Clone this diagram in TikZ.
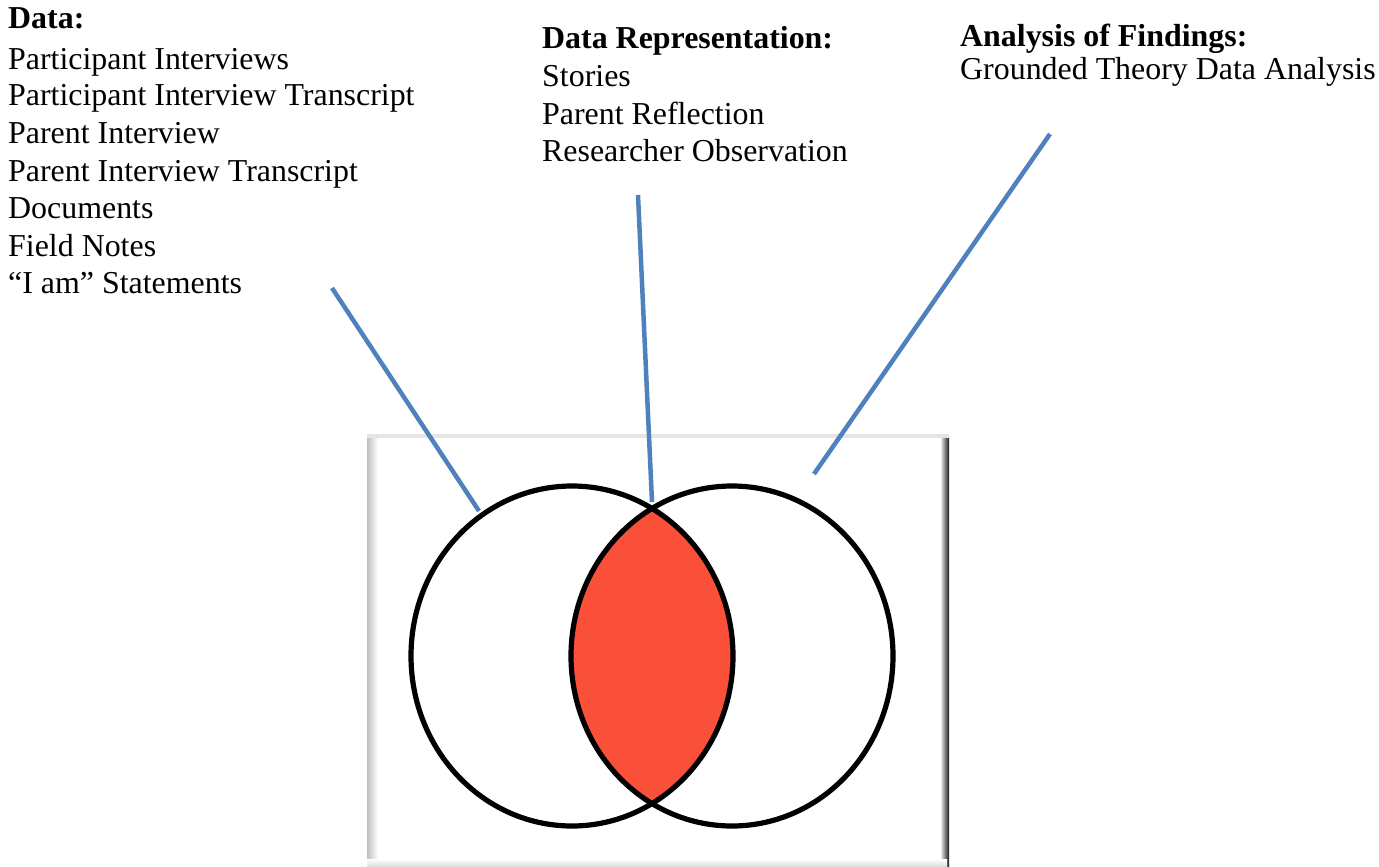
\documentclass[tikz,border=0pt]{standalone}
\usepackage{fontspec}
\setmainfont{Liberation Serif}
\definecolor{lineblue}{RGB}{79,129,189}
\definecolor{lensred}{RGB}{250,80,58}
\begin{document}
\begin{tikzpicture}[x=1pt,y=-1pt,
  lbl/.style={anchor=base west, inner sep=0pt, font=\fontsize{31.9}{37.8}\selectfont},
  head/.style={lbl, font=\fontsize{31.9}{37.8}\selectfont\bfseries},
  leader/.style={draw=lineblue, line width=4.5pt},
  ring/.style={draw=black, line width=5.2pt},
  rad/.style={x radius=161, y radius=170},
]
\useasboundingbox (0,0) rectangle (1379,867);
% frame
\node[anchor=north west, inner sep=0pt, minimum width=582pt, minimum height=432pt, fill=white] (frame) at (367,435) {};
\shade[left color=gray!50, right color=white] (367,437) rectangle (378,866);
\shade[left color=white, right color=black!90] (940,437) rectangle (949,866);
\fill[gray!20] (367,434) rectangle (949,437.5);
\shade[top color=white, bottom color=gray!25] (367,859) rectangle (947,866);

% texts
\node[head] (d0) at (8,29) {Data:};
\node[lbl] (d1) at (8,70) {Participant Interviews};
\node[lbl] (d2) at (8,106) {Participant Interview Transcript};
\node[lbl] (d3) at (8,143.5) {Parent Interview};
\node[lbl] (d4) at (8,181) {Parent Interview Transcript};
\node[lbl] (d5) at (8,218.5) {Documents};
\node[lbl] (d6) at (8,256) {Field Notes};
\node[lbl] (d7) at (8,293.6) {``I am'' Statements};

\node[head] (r0) at (542,49) {Data Representation:};
\node[lbl] (r1) at (542,87) {Stories};
\node[lbl] (r2) at (542,124) {Parent Reflection};
\node[lbl] (r3) at (542,161) {Researcher Observation};

\node[head] (a0) at (960,46.5) {Analysis of Findings:};
\node[lbl] (a1) at (960,80) {Grounded Theory Data Analysis};

% circles
\coordinate (cl) at (572,656);
\coordinate (cr) at (732,656);

% leaders
\coordinate (dataTip) at (332,288);
\coordinate (dataHit) at (479,511);
\coordinate (repTip) at (638,195);
\coordinate (repHit) at (652,502);
\coordinate (anaTip) at (1050,134);
\coordinate (anaHit) at (814,474);
\draw[leader] (dataTip) -- (dataHit);
\draw[leader] (repTip) -- (repHit);
\draw[leader] (anaTip) -- (anaHit);

\begin{scope}
  \clip (cl) ellipse [rad];
  \fill[lensred] (cr) ellipse [rad];
\end{scope}
\draw[ring] (cl) ellipse [rad];
\draw[ring] (cr) ellipse [rad];
\end{tikzpicture}
\end{document}
